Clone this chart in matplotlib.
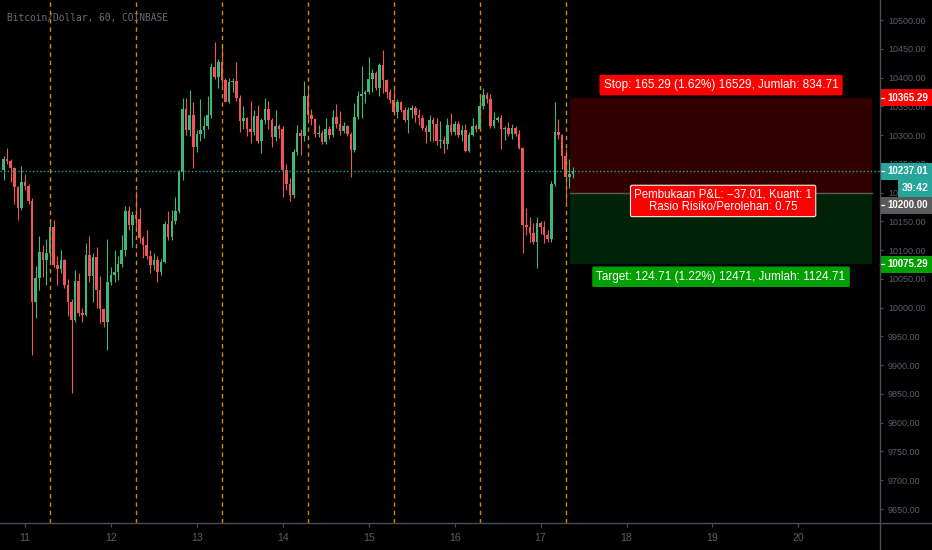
import matplotlib
matplotlib.use('Agg')
import matplotlib.pyplot as plt
import matplotlib.transforms as mtrans
from matplotlib.patches import Rectangle
from matplotlib.lines import Line2D

plt.rcParams['font.family'] = ['Liberation Sans', 'DejaVu Sans']

# ---------------- data ----------------
title = 'Bitcoin/Dollar, 60, COINBASE'
first_hour = -6          # first candle: hours relative to 11 Sep 00:00
first_open = 10239.0
closes = [10258, 10255, 10243, 10210, 10173, 10219, 10212, 10185, 10010, 10052,
          10097, 10083, 10095, 10140, 10075, 10068, 10083, 10040, 10010, 9978,
          10046, 9990, 9988, 10092, 10055, 10088, 10031, 9997, 9975, 10045,
          10057, 10062, 10076, 10100, 10168, 10144, 10161, 10154, 10121, 10109,
          10090, 10075, 10082, 10062, 10080, 10145, 10122, 10150, 10168, 10235,
          10345, 10309, 10335, 10280, 10302, 10309, 10316, 10335, 10418, 10401,
          10427, 10396, 10357, 10392, 10394, 10365, 10325, 10330, 10310, 10305,
          10333, 10290, 10326, 10345, 10326, 10297, 10315, 10311, 10239, 10215,
          10195, 10270, 10303, 10298, 10368, 10335, 10328, 10302, 10304, 10288,
          10310, 10300, 10331, 10320, 10307, 10316, 10302, 10274, 10331, 10368,
          10372, 10375, 10398, 10408, 10382, 10422, 10396, 10375, 10361, 10340,
          10357, 10344, 10326, 10343, 10347, 10335, 10330, 10312, 10305, 10326,
          10320, 10290, 10292, 10285, 10318, 10305, 10320, 10300, 10308, 10272,
          10300, 10316, 10311, 10351, 10370, 10363, 10316, 10326, 10330, 10310,
          10313, 10302, 10312, 10302, 10277, 10144, 10141, 10130, 10114, 10147,
          10140, 10127, 10120, 10215, 10305, 10300, 10263, 10227, 10232, 10237.01]
highs = [10264, 10278, 10258, 10245, 10212, 10247, 10232, 10215, 10190, 10073,
         10125, 10109, 10120, 10150, 10152, 10090, 10100, 10085, 10050, 10015,
         10066, 10060, 10000, 10113, 10125, 10095, 10105, 10055, 10000, 10120,
         10070, 10100, 10090, 10127, 10177, 10177, 10168, 10202, 10173, 10125,
         10135, 10100, 10095, 10090, 10085, 10150, 10168, 10170, 10193, 10240,
         10365, 10365, 10378, 10358, 10309, 10363, 10334, 10368, 10426, 10462,
         10432, 10453, 10400, 10400, 10400, 10427, 10370, 10350, 10332, 10360,
         10344, 10353, 10330, 10365, 10359, 10330, 10344, 10320, 10315, 10250,
         10225, 10275, 10317, 10310, 10394, 10387, 10345, 10330, 10318, 10308,
         10330, 10315, 10343, 10354, 10342, 10322, 10318, 10305, 10356, 10377,
         10420, 10378, 10436, 10415, 10412, 10426, 10448, 10398, 10380, 10383,
         10362, 10360, 10348, 10348, 10352, 10350, 10345, 10335, 10318, 10335,
         10332, 10330, 10325, 10298, 10330, 10338, 10325, 10324, 10318, 10320,
         10305, 10330, 10320, 10368, 10382, 10375, 10372, 10340, 10333, 10335,
         10316, 10322, 10320, 10315, 10308, 10280, 10173, 10158, 10147, 10158,
         10150, 10150, 10135, 10220, 10358, 10328, 10302, 10275, 10258, 10245]
lows = [10222, 10250, 10218, 10180, 10152, 10170, 10205, 10180, 9918, 9982,
        10031, 10054, 10040, 10080, 10070, 10040, 10060, 10035, 9985, 9852,
        9975, 9985, 9975, 9985, 10045, 10010, 10000, 9973, 9966, 9926,
        10040, 10045, 10048, 10070, 10090, 10135, 10105, 10140, 10112, 10087,
        10085, 10060, 10066, 10044, 10057, 10078, 10118, 10118, 10145, 10165,
        10222, 10300, 10298, 10243, 10270, 10290, 10295, 10310, 10330, 10398,
        10382, 10387, 10357, 10355, 10375, 10360, 10305, 10310, 10298, 10287,
        10300, 10286, 10268, 10320, 10310, 10280, 10290, 10295, 10192, 10205,
        10185, 10190, 10265, 10265, 10290, 10328, 10318, 10296, 10296, 10285,
        10284, 10294, 10296, 10312, 10300, 10303, 10298, 10228, 10270, 10328,
        10330, 10355, 10372, 10375, 10378, 10368, 10373, 10365, 10355, 10335,
        10330, 10340, 10322, 10303, 10330, 10322, 10318, 10308, 10287, 10290,
        10290, 10283, 10278, 10268, 10275, 10300, 10300, 10296, 10290, 10270,
        10270, 10298, 10306, 10308, 10345, 10355, 10312, 10312, 10322, 10275,
        10292, 10298, 10293, 10298, 10275, 10095, 10126, 10114, 10110, 10069,
        10128, 10112, 10115, 10115, 10212, 10293, 10241, 10184, 10208, 10225]

day_labels = ['11', '12', '13', '14', '15', '16', '17', '18', '19', '20']
price_ticks = [9650, 9700, 9750, 9800, 9850, 9900, 9950, 10000, 10050, 10100,
               10150, 10200, 10250, 10300, 10350, 10400, 10450, 10500]
session_hour = 7

entry_price = 10200.00
stop_price = 10365.29
target_price = 10075.29
last_price = 10237.01
countdown = '39:42'
position_start_hour = 152.2
position_end_hour = 236.6
stop_text = 'Stop: 165.29 (1.62%) 16529, Jumlah: 834.71'
target_text = 'Target: 124.71 (1.22%) 12471, Jumlah: 1124.71'
pnl_text = 'Pembukaan P&L: \u221237.01, Kuant: 1\nRasio Risiko/Perolehan: 0.75'

# ---------------- style ----------------
UP = '#3db87a'
DOWN = '#ef5457'
GRID_TXT = '#5b5e68'
LINE = '#4a4d55'
TEAL = '#26a69a'
NARROW = ['Liberation Sans Narrow', 'Liberation Sans', 'DejaVu Sans']

W, H = 932, 550
fig = plt.figure(figsize=(W / 100, H / 100), dpi=100, facecolor='black')
ax = fig.add_axes([0, 27 / H, 880 / W, 523 / H], facecolor='black')
ax.set_xlim(-6.98, 238.8)
ax.set_ylim(9625.7, 10534.8)
for s in ax.spines.values():
    s.set_visible(False)

# candles
opens = [first_open] + closes[:-1]
for i, (o, c, h, l) in enumerate(zip(opens, closes, highs, lows)):
    t = first_hour + i
    col = UP if c >= o else DOWN
    h = max(h, o, c)
    l = min(l, o, c)
    ax.vlines(t, l, h, color=col, lw=0.8, zorder=3)
    ax.bar(t, max(abs(c - o), 1.2), bottom=min(o, c), width=0.72,
           color=col, linewidth=0, zorder=3)

# session separators
for k in range(7):
    ax.axvline(session_hour + 24 * k, color='#d98800', lw=1.0,
               dashes=(3.2, 2.8), zorder=4)

# position zones
ax.add_patch(Rectangle((position_start_hour, entry_price),
                       position_end_hour - position_start_hour,
                       stop_price - entry_price, fc='#330000', ec='none', zorder=1))
ax.add_patch(Rectangle((position_start_hour, target_price),
                       position_end_hour - position_start_hour,
                       entry_price - target_price, fc='#002208', ec='none', zorder=1))
ax.plot([position_start_hour, position_end_hour], [entry_price, entry_price],
        color='#5a5e5a', lw=1.0, zorder=2)

# last price dotted line
ax.axhline(last_price, color=TEAL, lw=1.0, dashes=(1, 1.6), zorder=5)

mid_t = (position_start_hour + position_end_hour) / 2
ax.annotate(stop_text, xy=(mid_t, stop_price), xytext=(0, 4.6),
            textcoords='offset points', ha='center', va='bottom',
            color='white', fontsize=8.5, zorder=8,
            bbox=dict(boxstyle='round,pad=0.36,rounding_size=0.15',
                      fc='#ff0000', ec='none'))
ax.annotate(target_text, xy=(mid_t, target_price), xytext=(0, -4.6),
            textcoords='offset points', ha='center', va='top',
            color='white', fontsize=8.5, zorder=8,
            bbox=dict(boxstyle='round,pad=0.36,rounding_size=0.15',
                      fc='#00a000', ec='none'))
ax.annotate(pnl_text, xy=(mid_t, entry_price), xytext=(1.5, -6.0),
            textcoords='offset points', ha='center', va='center',
            color='white', fontsize=8.3, zorder=8, linespacing=1.0,
            multialignment='center',
            bbox=dict(boxstyle='round,pad=0.32,rounding_size=0.15',
                      fc='#ff0000', ec='#f0f0f0', lw=0.8))

# axes ticks
ax.yaxis.tick_right()
ax.set_yticks(price_ticks, labels=[f'{v:.2f}' for v in price_ticks],
              fontfamily=NARROW, fontsize=6.5)
ax.tick_params(axis='y', colors=LINE, labelcolor=GRID_TXT, length=2.5,
               width=0.8, pad=3.2, direction='out')
ax.set_xticks([24 * k for k in range(len(day_labels))], labels=day_labels,
              fontfamily=NARROW, fontsize=7.6)
ax.tick_params(axis='x', colors=LINE, labelcolor=GRID_TXT, length=3,
               width=0.8, pad=4, direction='out')

# price-axis labels
units_per_px = (ax.get_ylim()[1] - ax.get_ylim()[0]) / 523.0
box_h = 17 * units_per_px
blend = mtrans.blended_transform_factory(ax.transAxes, ax.transData)


def price_label(center, text, fc, x0=1.0, dash=True, size=7.0):
    ax.add_patch(Rectangle((x0, center - box_h / 2), 1.06 - x0, box_h,
                           transform=blend, fc=fc, ec='none', clip_on=False,
                           zorder=20))
    if dash:
        ax.add_line(Line2D([1.0, 1.0 + 4 / 880], [center, center],
                           transform=blend, color='white', lw=0.9,
                           clip_on=False, zorder=21))
    ax.text(x0 + (7 if dash else 4) / 880, center, text, transform=blend,
            ha='left', va='center', color='white', fontsize=size,
            fontweight='bold', fontfamily=NARROW, clip_on=False, zorder=22)


price_label(stop_price, f'{stop_price:.2f}', '#ff0000')
price_label(last_price, f'{last_price:.2f}', TEAL)
price_label(last_price - box_h, countdown, TEAL, x0=1.0 + 18 / 880, dash=False,
            size=7.6)
price_label(last_price - 2 * box_h, f'{entry_price:.2f}', '#5a5a5a')
price_label(target_price, f'{target_price:.2f}', '#00a000')

# frame lines
fig.add_artist(Line2D([0, 1], [27 / H, 27 / H], transform=fig.transFigure,
                      color=LINE, lw=1.0))
fig.add_artist(Line2D([880 / W, 880 / W], [0, 1], transform=fig.transFigure,
                      color=LINE, lw=1.0))

fig.text(7 / W, 1 - 18 / H, title, color='#6b6e77', fontsize=6.9,
         fontfamily='DejaVu Sans Mono', va='center', ha='left')

fig.savefig('out.png', dpi=100, facecolor='black')
